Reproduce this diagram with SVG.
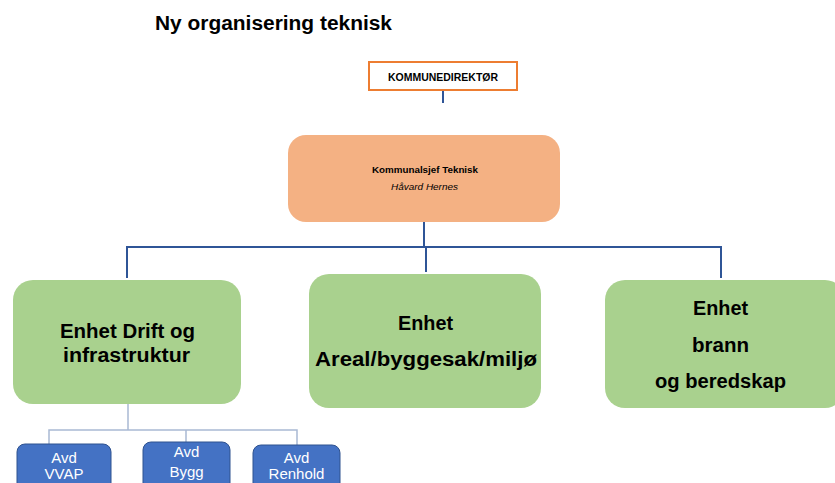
<svg xmlns="http://www.w3.org/2000/svg" width="835" height="483" viewBox="0 0 835 483">
<style>
text{font-family:"Liberation Sans",Arial,sans-serif;text-anchor:middle}
.title{font-size:20px;font-weight:bold;text-anchor:start;fill:#000}
.dir{font-size:10px;font-weight:bold;fill:#000}
.ks{font-size:9px;font-weight:bold;fill:#000}
.ksi{font-size:9px;font-style:italic;fill:#000}
.unit{fill:#A9D18E}
.ut{font-size:20px;font-weight:bold;fill:#000}
.avd{fill:#4472C4;stroke:#2F528F;stroke-width:1}
.at{font-size:15px;fill:#fff}
.c1{stroke:#2F5597;stroke-width:2;fill:none}
.c2{stroke:#A9B9D3;stroke-width:1.5;fill:none}
</style>
<rect width="835" height="483" fill="#fff"/>
<text class="title" x="155" y="30" textLength="237" lengthAdjust="spacingAndGlyphs">Ny organisering teknisk</text>
<g id="connectors">
<line class="c1" x1="443" y1="90" x2="443" y2="103"/>
<line class="c1" x1="424" y1="222" x2="424" y2="247"/>
<polyline class="c1" points="127,278 127,247 721,247 721,278"/>
<line class="c1" x1="426" y1="247" x2="426" y2="272"/>
<line class="c2" x1="128" y1="404" x2="128" y2="430"/>
<polyline class="c2" points="49,444 49,430 297,430 297,445"/>
<line class="c2" x1="186" y1="430" x2="186" y2="442"/>
</g>
<g id="kommunedirektor">
<rect x="369" y="62" width="148" height="28" fill="#fff" stroke="#ED7D31" stroke-width="2"/>
<text class="dir" x="443" y="81" textLength="110" lengthAdjust="spacingAndGlyphs">KOMMUNEDIREKTØR</text>
</g>
<g id="kommunalsjef">
<rect x="288" y="135" width="272" height="87" rx="18" fill="#F4B183"/>
<text class="ks" x="425" y="173" textLength="106" lengthAdjust="spacingAndGlyphs">Kommunalsjef Teknisk</text>
<text class="ksi" x="424.5" y="190" textLength="67" lengthAdjust="spacingAndGlyphs">Håvard Hernes</text>
</g>
<g id="enhet-drift">
<rect class="unit" x="13" y="280" width="228" height="124" rx="20"/>
<text class="ut" x="127.5" y="338" textLength="135" lengthAdjust="spacingAndGlyphs">Enhet Drift og</text>
<text class="ut" x="126.5" y="362" textLength="127" lengthAdjust="spacingAndGlyphs">infrastruktur</text>
</g>
<g id="enhet-areal">
<rect class="unit" x="309" y="274" width="232" height="134" rx="20"/>
<text class="ut" x="425.5" y="330" textLength="55" lengthAdjust="spacingAndGlyphs">Enhet</text>
<text class="ut" x="426" y="366" textLength="222" lengthAdjust="spacingAndGlyphs">Areal/byggesak/miljø</text>
</g>
<g id="enhet-brann">
<rect class="unit" x="605" y="280" width="240" height="128" rx="20"/>
<text class="ut" x="720.5" y="315" textLength="55" lengthAdjust="spacingAndGlyphs">Enhet</text>
<text class="ut" x="720.5" y="352" textLength="57" lengthAdjust="spacingAndGlyphs">brann</text>
<text class="ut" x="720.5" y="388" textLength="131" lengthAdjust="spacingAndGlyphs">og beredskap</text>
</g>
<g id="avd-vvap">
<rect class="avd" x="17" y="444" width="94" height="60" rx="8"/>
<text class="at" x="64" y="463">Avd</text>
<text class="at" x="64" y="479">VVAP</text>
</g>
<g id="avd-bygg">
<rect class="avd" x="143" y="442" width="87" height="60" rx="8"/>
<text class="at" x="186.5" y="457">Avd</text>
<text class="at" x="186.5" y="477">Bygg</text>
</g>
<g id="avd-renhold">
<rect class="avd" x="253" y="445" width="87" height="60" rx="8"/>
<text class="at" x="296.5" y="463">Avd</text>
<text class="at" x="296.5" y="479">Renhold</text>
</g>
</svg>
